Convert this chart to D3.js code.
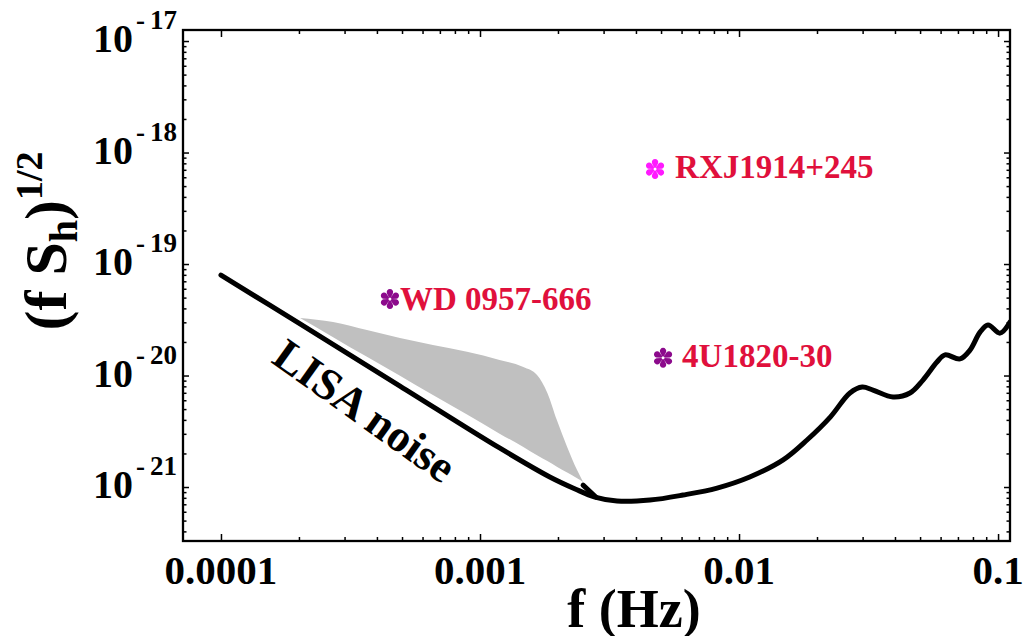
<!DOCTYPE html>
<meta charset="utf-8">
<title>LISA noise and binaries</title>
<style>
body { margin: 0; background: #fff; }
text { font-family: "Liberation Serif", "Times New Roman", serif; font-weight: bold; }
</style>
<body>
<svg width="1028" height="636"></svg>
<script src="https://d3js.org/d3.v7.min.js"></script>
<script>

// LISA sensitivity curve
var lisaF = [1.00e-4, 2.02e-4, 4.91e-4, 1.19e-3, 1.86e-3, 2.33e-3, 2.78e-3, 3.38e-3, 4.53e-3,
  6.08e-3, 8.23e-3, 1.10e-2, 1.48e-2, 1.83e-2, 2.25e-2, 2.68e-2, 2.99e-2, 3.29e-2, 3.93e-2,
  4.57e-2, 5.13e-2, 5.81e-2, 6.24e-2, 7.13e-2, 7.79e-2, 8.52e-2, 9.15e-2, 1.018e-1, 1.112e-1];
var lisaH = [7.96e-20, 2.90e-20, 8.05e-21, 2.24e-21, 1.23e-21, 9.60e-22, 8.13e-22, 7.49e-22, 7.64e-22,
  8.48e-22, 9.79e-22, 1.23e-21, 1.75e-21, 2.64e-21, 4.24e-21, 6.97e-21, 7.88e-21, 7.41e-21, 6.42e-21,
  6.97e-21, 9.11e-21, 1.32e-20, 1.53e-20, 1.41e-20, 1.69e-20, 2.45e-20, 2.84e-20, 2.40e-20, 3.02e-20];

// grey band of galactic binaries
var bandF = [2.02e-4, 2.71e-4, 3.66e-4, 4.91e-4, 6.58e-4, 8.91e-4, 1.19e-3, 1.47e-3, 1.66e-3,
  1.82e-3, 1.98e-3, 2.17e-3, 2.37e-3, 2.50e-3];
var bandUpper = [3.28e-20, 3.02e-20, 2.56e-20, 2.17e-20, 1.88e-20, 1.63e-20, 1.38e-20, 1.19e-20, 1.01e-20,
  6.97e-21, 3.99e-21, 2.29e-21, 1.42e-21, 1.11e-21];
var bandLower = [3.28e-20, 2.21e-20, 1.47e-20, 9.96e-21, 6.68e-21, 4.46e-21, 3.01e-21, 2.29e-21, 1.93e-21,
  1.71e-21, 1.52e-21, 1.35e-21, 1.20e-21, 1.11e-21];

// short track at the tip of the band
var trackF = [2.50e-3, 2.80e-3];
var trackH = [1.04e-21, 8.13e-22];

// known sources
var sourceNames = ["WD 0957-666", "RXJ1914+245", "4U1820-30"];
var sourceF = [4.49e-4, 4.74e-3, 5.09e-3];
var sourceH = [4.85e-20, 7.11e-19, 1.44e-20];
var sourceColors = ["#8c0a8c", "#ff1aff", "#8c0a8c"];
var sourceGap = [10, 20, 19];

var xTicks = [1e-4, 1e-3, 1e-2, 1e-1];
var xTickLabels = ["0.0001", "0.001", "0.01", "0.1"];
var yTicks = [1e-21, 1e-20, 1e-19, 1e-18, 1e-17];
var yTickExponents = ["21", "20", "19", "18", "17"];

var svg = d3.select("svg");
var frameL = 183, frameR = 1010, frameT = 30, frameB = 541;

var x = d3.scaleLog().domain([7.135e-5, 0.1112]).range([frameL, frameR]);
var y = d3.scaleLog().domain([3.28e-22, 1.256e-17]).range([frameB, frameT]);

function minorTicks(scale, from) {
  var dom = scale.domain(), out = [];
  for (var e = -23; e <= 0; e++) {
    for (var k = 2; k <= 9; k++) {
      var v = k * Math.pow(10, e);
      if (v >= dom[0] && v <= dom[1] && v >= from) out.push(v);
    }
  }
  return out;
}

svg.append("clipPath").attr("id", "plot")
  .append("rect").attr("x", frameL).attr("y", frameT)
  .attr("width", frameR - frameL).attr("height", frameB - frameT);

var plot = svg.append("g").attr("clip-path", "url(#plot)");

// band
var band = bandF.map(function(f, i) { return { f: f, hi: bandUpper[i], lo: bandLower[i] }; });
plot.append("path")
  .datum(band)
  .attr("fill", "#c0c0c0")
  .attr("d", d3.area()
    .x(function(d) { return x(d.f); })
    .y0(function(d) { return y(d.lo); })
    .y1(function(d) { return y(d.hi); })
    .curve(d3.curveMonotoneX));

// LISA curve
var lisa = lisaF.map(function(f, i) { return { f: f, h: lisaH[i] }; });
var line = d3.line()
  .x(function(d) { return x(d.f); })
  .y(function(d) { return y(d.h); })
  .curve(d3.curveCatmullRom);

plot.append("path")
  .datum(lisa)
  .attr("fill", "none")
  .attr("stroke", "#000")
  .attr("stroke-width", 5)
  .attr("stroke-linejoin", "round")
  .attr("stroke-linecap", "round")
  .attr("d", line);

plot.append("path")
  .datum(trackF.map(function(f, i) { return { f: f, h: trackH[i] }; }))
  .attr("fill", "none")
  .attr("stroke", "#000")
  .attr("stroke-width", 5)
  .attr("stroke-linecap", "round")
  .attr("d", line);

// asterisk with teardrop spokes
var teardropStar = {
  draw: function(context, size) {
    var R = Math.sqrt(size) / 2, c = 0.68 * R, br = 0.32 * R;
    var r0 = 0.14 * R, w0 = 0.08 * R, phi = 0.3;
    function pt(a, px, py) { return [px * Math.cos(a) - py * Math.sin(a), px * Math.sin(a) + py * Math.cos(a)]; }
    for (var k = 0; k < 6; k++) {
      var a = k * Math.PI / 3 - Math.PI / 2;
      var p0 = pt(a, r0, -w0), p1 = pt(a, c - br * Math.sin(phi), -br * Math.cos(phi)), p3 = pt(a, r0, w0);
      context.moveTo(p0[0], p0[1]);
      context.lineTo(p1[0], p1[1]);
      context.arc(c * Math.cos(a), c * Math.sin(a), br, a - Math.PI / 2 - phi, a + Math.PI / 2 + phi, false);
      context.lineTo(p3[0], p3[1]);
      context.closePath();
    }
  }
};

var sources = sourceNames.map(function(n, i) {
  return { name: n, f: sourceF[i], h: sourceH[i], color: sourceColors[i], gap: sourceGap[i] };
});

var src = svg.append("g").selectAll("g")
  .data(sources)
  .enter().append("g")
  .attr("transform", function(d) { return "translate(" + x(d.f) + "," + y(d.h) + ")"; });

src.append("path")
  .attr("d", d3.symbol().type(teardropStar).size(400))
  .attr("fill", function(d) { return d.color; });

src.append("text")
  .attr("x", function(d) { return d.gap; })
  .attr("y", function(d, i) { return i === 0 ? 11 : 9; })
  .attr("font-size", 33)
  .attr("fill", "#e0103c")
  .text(function(d) { return d.name; });

// LISA noise label
svg.append("text")
  .attr("transform", "translate(" + x(3.32e-4) + "," + y(3.75e-21) + ") rotate(35.5)")
  .attr("text-anchor", "middle")
  .attr("font-size", 45)
  .text("LISA noise");

// ticks on all four sides
function addTicks(axis, transform, values, size) {
  svg.append("g")
    .attr("transform", transform)
    .call(axis.tickValues(values).tickSize(size).tickFormat(""))
    .call(function(g) { g.select(".domain").remove(); })
    .selectAll("line").attr("stroke", "#000").attr("stroke-width", 1.5);
}
var xMinor = minorTicks(x, 1e-4), yMinor = minorTicks(y, 0);
addTicks(d3.axisBottom(x), "translate(0," + frameB + ")", xTicks, -7);
addTicks(d3.axisBottom(x), "translate(0," + frameB + ")", xMinor, -4);
addTicks(d3.axisTop(x), "translate(0," + frameT + ")", xTicks, -7);
addTicks(d3.axisTop(x), "translate(0," + frameT + ")", xMinor, -4);
addTicks(d3.axisLeft(y), "translate(" + frameL + ",0)", yTicks, -6);
addTicks(d3.axisLeft(y), "translate(" + frameL + ",0)", yMinor, -3.5);
addTicks(d3.axisRight(y), "translate(" + frameR + ",0)", yTicks, -6);
addTicks(d3.axisRight(y), "translate(" + frameR + ",0)", yMinor, -3.5);

svg.append("rect")
  .attr("x", frameL).attr("y", frameT)
  .attr("width", frameR - frameL).attr("height", frameB - frameT)
  .attr("fill", "none").attr("stroke", "#000").attr("stroke-width", 2.3);

// tick labels
svg.append("g").selectAll("text")
  .data(xTicks)
  .enter().append("text")
  .attr("x", function(d) { return x(d); })
  .attr("y", 584)
  .attr("text-anchor", "middle")
  .attr("font-size", 41)
  .text(function(d, i) { return xTickLabels[i]; });

var yl = svg.append("g").selectAll("text")
  .data(yTicks)
  .enter().append("text")
  .attr("x", 177)
  .attr("y", function(d) { return y(d) + 11; })
  .attr("text-anchor", "end")
  .attr("font-size", 40);
yl.append("tspan").text("10");
yl.append("tspan").attr("dx", 3).attr("dy", -23).attr("font-size", 27).text("-");
yl.append("tspan").attr("dx", 5).attr("font-size", 27).text(function(d, i) { return yTickExponents[i]; });

// axis titles
svg.append("text")
  .attr("x", 634)
  .attr("y", 627)
  .attr("text-anchor", "middle")
  .attr("font-size", 54)
  .text("f (Hz)");

var yt = svg.append("text")
  .attr("transform", "translate(66,241) rotate(-90)")
  .attr("text-anchor", "middle")
  .attr("font-size", 60);
yt.append("tspan").text("(f S");
yt.append("tspan").attr("font-size", 40).attr("dy", 11).text("h");
yt.append("tspan").attr("dy", -11).text(")");
yt.append("tspan").attr("font-size", 38).attr("dy", -24).text("1/2");

</script>
</body>
